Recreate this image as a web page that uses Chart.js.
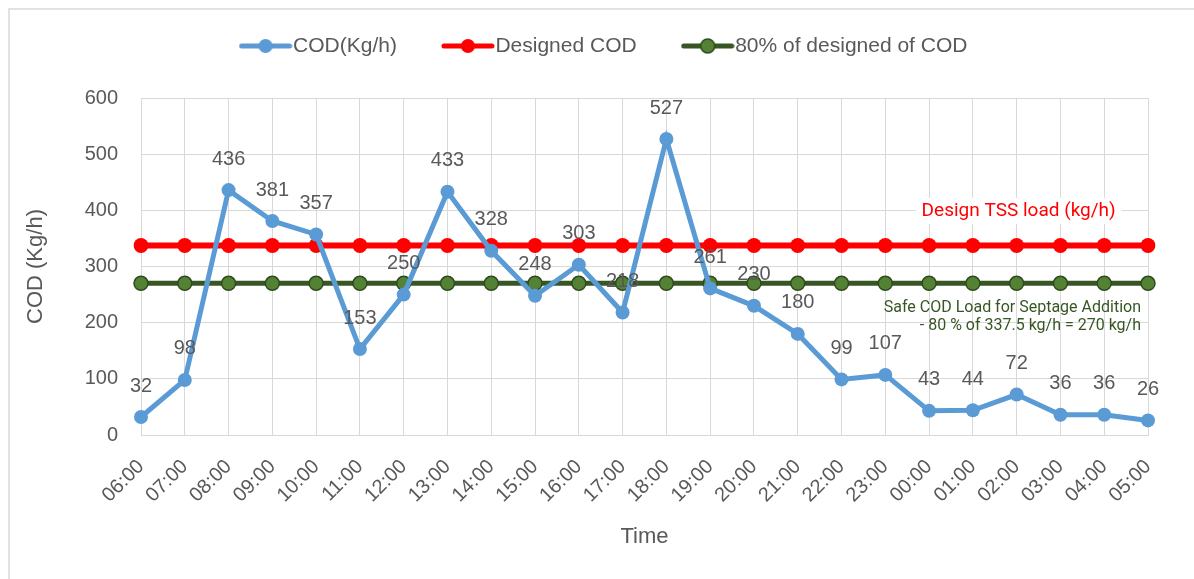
<!DOCTYPE html>
<html>
<head>
<meta charset="utf-8">
<script src="https://cdn.jsdelivr.net/npm/chart.js@4/dist/chart.umd.min.js"></script>
<style>
  body { margin: 0; background: #fff; }
  #wrap { position: relative; width: 1194px; height: 579px; }
  #frame { position: absolute; left: 8px; top: 8px; right: 0; bottom: 0;
           border-left: 2px solid #e2e2e2; border-top: 2px solid #e2e2e2; pointer-events: none; }
  canvas { position: absolute; left: 0; top: 0; }
</style>
</head>
<body>
<div id="wrap">
  <canvas id="chart" width="1194" height="579"></canvas>
  <div id="frame"></div>
</div>
<script>
const hours = ['06:00','07:00','08:00','09:00','10:00','11:00','12:00','13:00','14:00','15:00','16:00','17:00',
               '18:00','19:00','20:00','21:00','22:00','23:00','00:00','01:00','02:00','03:00','04:00','05:00'];
const codLoad = [32, 98, 436, 381, 357, 153, 250, 433, 328, 248, 303, 218,
                 527, 261, 230, 180, 99, 107, 43, 44, 72, 36, 36, 26];
const designedCod = hours.map(() => 337.5);
const safeCod = hours.map(() => 270);
const yTicks = [0, 100, 200, 300, 400, 500, 600];

const GREY = '#595959';
const FONT = '"Liberation Sans", Arial, sans-serif';

// petite icône ligne + rond pour la légende
function legendIcon(color, fill, border) {
    const c = document.createElement('canvas');
    c.width = 54; c.height = 18;
    const g = c.getContext('2d');
    g.strokeStyle = color;
    g.lineWidth = 5;
    g.lineCap = 'round';
    g.beginPath(); g.moveTo(3, 9); g.lineTo(51, 9); g.stroke();
    g.fillStyle = fill;
    g.beginPath(); g.arc(27, 9, 7, 0, Math.PI * 2); g.fill();
    if (border) { g.lineWidth = 1.5; g.strokeStyle = border; g.stroke(); }
    return c;
}
const icons = [
    legendIcon('#5B9BD5', '#5B9BD5'),
    legendIcon('#FF0000', '#FF0000'),
    legendIcon('#375623', '#548235', '#2f4a1d')
];

// place fixe pour la légende (hauteur + décalage)
const legendSpace = {
    id: 'legendSpace',
    beforeInit(chart) {
        const lg = chart.legend;
        const fit = lg.fit;
        lg.fit = function () { fit.call(this); this.height = 88; };
        const draw = lg.draw;
        lg.draw = function () {
            const dx = 29, dy = -28.5;
            this.left += dx; this.right += dx; this.top += dy;
            draw.call(this);
            this.left -= dx; this.right -= dx; this.top -= dy;
        };
    }
};

// étiquettes de valeurs + textes d'annotation
const labelsPlugin = {
    id: 'labels',
    afterDatasetsDraw(chart) {
        const ctx = chart.ctx;
        const meta = chart.getDatasetMeta(0);
        ctx.save();
        ctx.font = '20px ' + FONT;
        ctx.fillStyle = GREY;
        ctx.textAlign = 'center';
        ctx.textBaseline = 'middle';
        meta.data.forEach((pt, i) => {
            ctx.fillText(String(codLoad[i]), pt.x, pt.y - 31);
        });

        const x = chart.scales.x;
        const y = chart.scales.y;
        ctx.font = '19px Roboto, sans-serif';
        const t1 = 'Design TSS load (kg/h)';
        const cx = x.getPixelForValue(20) + 2;
        const cy = y.getPixelForValue(399);
        const w = ctx.measureText(t1).width;
        ctx.fillStyle = '#fff';
        ctx.fillRect(cx - w / 2 - 6, cy - 13, w + 12, 26);
        ctx.fillStyle = '#FF0000';
        ctx.fillText(t1, cx, cy);

        ctx.font = '16px Roboto, sans-serif';
        ctx.fillStyle = '#375623';
        ctx.textAlign = 'right';
        const rx = x.getPixelForValue(23) - 7;
        ctx.fillText('Safe COD Load for Septage Addition', rx, y.getPixelForValue(226));
        ctx.fillText('- 80 % of 337.5 kg/h = 270 kg/h', rx, y.getPixelForValue(194));
        ctx.restore();
    }
};

new Chart(document.getElementById('chart'), {
    type: 'line',
    data: {
        labels: hours,
        datasets: [{
            label: 'COD(Kg/h)',
            data: codLoad,
            borderColor: '#5B9BD5',
            backgroundColor: '#5B9BD5',
            borderWidth: 5,
            pointRadius: 7,
            pointBorderWidth: 0,
            tension: 0,
            order: 0
        }, {
            label: 'Designed COD',
            data: designedCod,
            borderColor: '#FF0000',
            backgroundColor: '#FF0000',
            borderWidth: 6,
            pointRadius: 7.5,
            pointBorderWidth: 0,
            order: 1
        }, {
            label: '80% of designed of COD',
            data: safeCod,
            borderColor: '#375623',
            backgroundColor: '#548235',
            borderWidth: 5,
            pointRadius: 7,
            pointBorderColor: '#2f4a1d',
            pointBorderWidth: 1.5,
            order: 2
        }]
    },
    options: {
        responsive: false,
        animation: false,
        layout: { padding: { left: 10, right: 46, top: 10, bottom: 0 } },
        plugins: {
            tooltip: { enabled: false },
            legend: {
                position: 'top',
                labels: {
                    usePointStyle: true,
                    pointStyleWidth: 34,
                    padding: 54,
                    color: GREY,
                    font: { family: FONT, size: 21 },
                    generateLabels(chart) {
                        return chart.data.datasets.map((ds, i) => ({
                            text: ds.label,
                            pointStyle: icons[i],
                            fillStyle: ds.backgroundColor,
                            strokeStyle: ds.borderColor,
                            lineWidth: 0,
                            fontColor: GREY,
                            datasetIndex: i,
                            hidden: false
                        }));
                    }
                }
            }
        },
        scales: {
            x: {
                offset: false,
                afterFit(scale) { scale.height = 144; },
                grid: { color: '#d9d9d9', lineWidth: 1, drawTicks: false },
                border: { color: '#d9d9d9' },
                ticks: {
                    color: GREY, font: { family: FONT, size: 20 },
                    maxRotation: 45, minRotation: 45, padding: 20, autoSkip: false
                },
                title: { display: true, text: 'Time', color: GREY, font: { family: FONT, size: 22 }, padding: { top: 4, bottom: 29 } }
            },
            y: {
                min: 0, max: 600,
                afterFit(scale) { scale.width = 131; },
                afterBuildTicks(scale) { scale.ticks = yTicks.map(v => ({ value: v })); },
                grid: { color: '#d9d9d9', lineWidth: 1, drawTicks: false },
                border: { display: false },
                ticks: { color: GREY, font: { family: FONT, size: 20 }, padding: 23 },
                title: { display: true, text: 'COD (Kg/h)', color: GREY, font: { family: FONT, size: 22 }, padding: { top: 13, bottom: 0 } }
            }
        }
    },
    plugins: [legendSpace, labelsPlugin]
});
</script>
</body>
</html>
